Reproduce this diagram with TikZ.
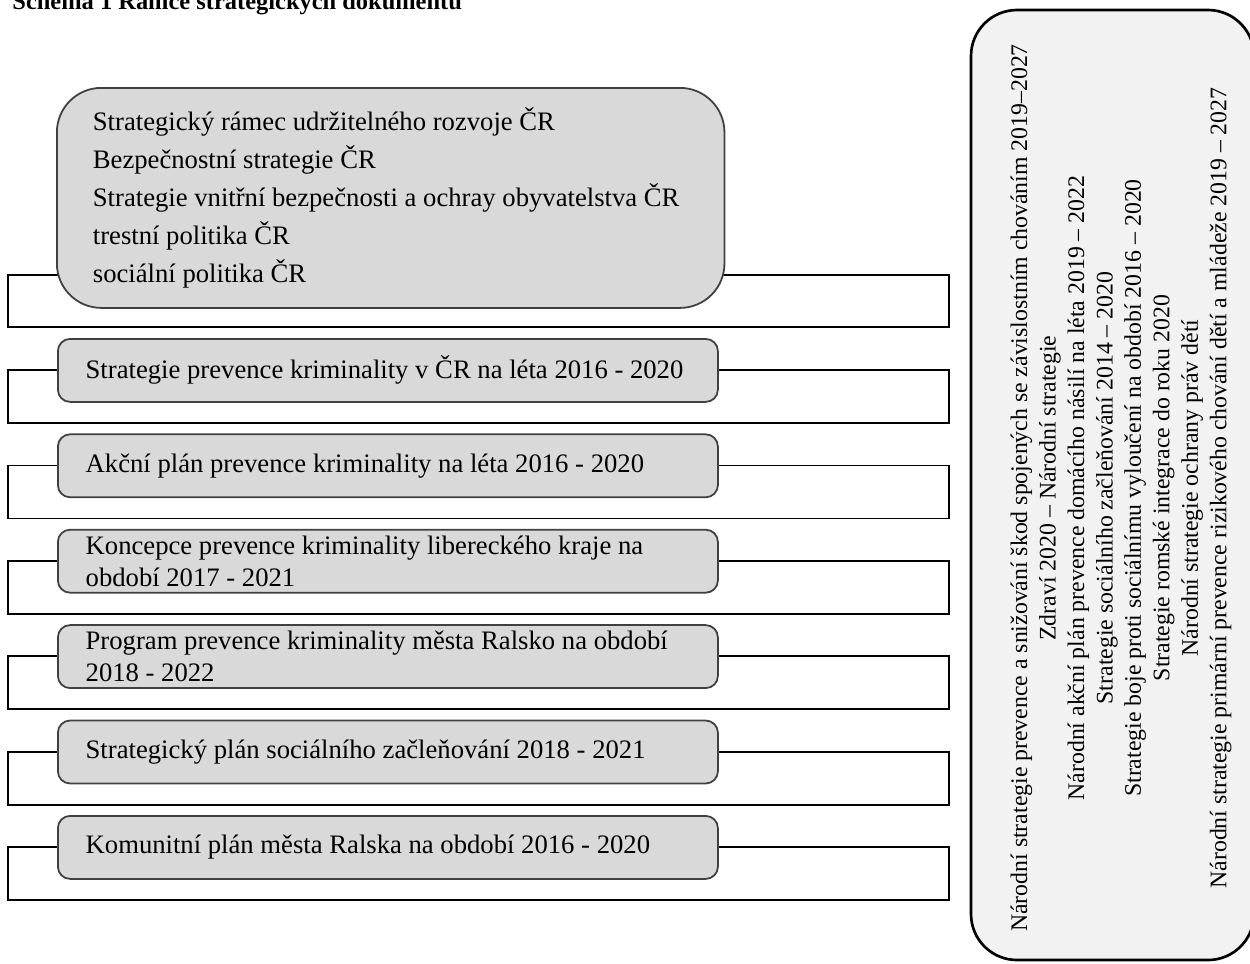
\documentclass[tikz,border=0pt]{standalone}
\usepackage{fontspec}
\setmainfont{Liberation Serif}
\definecolor{sedabox}{HTML}{D9D9D9}
\definecolor{sedaokraj}{HTML}{404040}
\definecolor{sedapanel}{HTML}{F2F2F2}
\tikzset{
	dokument/.style={draw=sedaokraj, line width=0.8pt, fill=sedabox, rounded corners=5.5pt, anchor=north west, minimum height=28.35pt, text width=272pt, inner xsep=12.5pt, inner ysep=1pt, align=flush left, font=\fontsize{12}{14.4}\selectfont},
	ramec/.style={draw=black, line width=0.8pt},
	panel/.style={draw=black, line width=1.2pt, fill=sedapanel, rounded corners=20.7pt}
}
\newcommand{\dok}[3]{
	\draw[ramec](8,#2+32)rectangle(949,#2+85);
	\node[dokument](#1)at(57,#2){#3};
}

\begin{document}
\begin{tikzpicture}[x=0.45pt, y=-0.45pt]
		\useasboundingbox(0,0)rectangle(1250,963);
		\node[anchor=base west, inner sep=0, font=\bfseries\fontsize{11}{13}\selectfont](titul)at(12,9){Schéma 1 Rámce strategických dokumentů};
		% horni ramec
		\draw[ramec](8,275)rectangle(949,327);
		\node[dokument, rounded corners=20pt, minimum height=99pt, inner xsep=16.2pt, text width=268pt, font=\fontsize{12}{17}\selectfont](ramce)at(56,87){Strategický rámec udržitelného rozvoje ČR\\Bezpečnostní strategie ČR\\Strategie vnitřní bezpečnosti a ochray obyvatelstva ČR\\trestní politika ČR\\sociální politika ČR};
		\dok{strategie}{338}{Strategie prevence kriminality v ČR na léta 2016 - 2020}
		\dok{akcni}{433.4}{Akční plán prevence kriminality na léta 2016 - 2020}
		\dok{koncepce}{528.8}{Koncepce prevence kriminality libereckého kraje na\\období 2017 - 2021}
		\dok{program}{624.2}{Program prevence kriminality města Ralsko na období\\2018 - 2022}
		\dok{zaclenovani}{719.6}{Strategický plán sociálního začleňování 2018 - 2021}
		\dok{komunitni}{815}{Komunitní plán města Ralska na období 2016 - 2020}
		% narodni strategie
		\draw[panel](971,10)rectangle(1254,960);
		\node[rotate=90, align=flush center, font=\fontsize{10.7}{12.8}\selectfont](narodni)at(1121,488){Národní strategie prevence a snižování škod spojených se závislostním chováním 2019–2027\\Zdraví 2020 – Národní strategie\\Národní akční plán prevence domácího násilí na léta 2019 – 2022\\Strategie sociálního začleňování 2014 – 2020\\Strategie boje proti sociálnímu vyloučení na období 2016 – 2020\\Strategie romské integrace do roku 2020\\Národní strategie ochrany práv dětí\\Národní strategie primární prevence rizikového chování dětí a mládeže 2019 – 2027};
	\end{tikzpicture}
\end{document}
